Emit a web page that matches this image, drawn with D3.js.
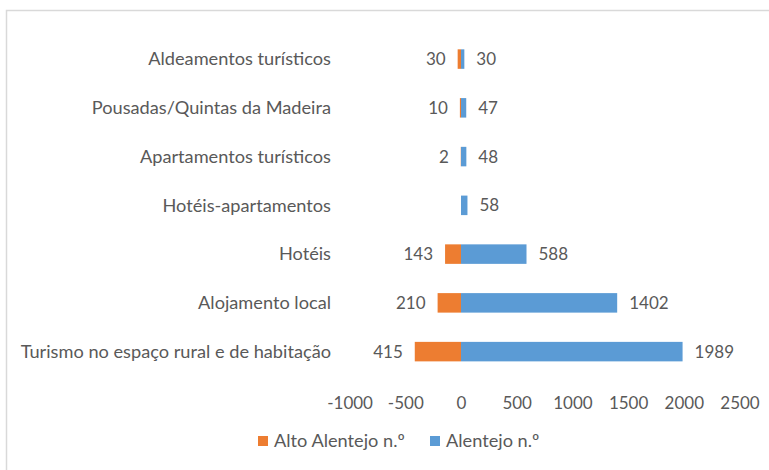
<!DOCTYPE html>
<html>
<head>
<meta charset="utf-8">
<script src="https://cdn.jsdelivr.net/npm/d3@7"></script>
<style>
  html, body { margin: 0; padding: 0; background: #fff; }
  svg { display: block; }
  text { font-family: Lato, "Open Sans", sans-serif; fill: #595959; }
</style>
</head>
<body>
<svg id="chart" width="769" height="470"></svg>
<script>
// Establishments by type: Alto Alentejo (drawn to the left of zero) vs Alentejo
const categories = [
  "Aldeamentos turísticos",
  "Pousadas/Quintas da Madeira",
  "Apartamentos turísticos",
  "Hotéis-apartamentos",
  "Hotéis",
  "Alojamento local",
  "Turismo no espaço rural e de habitação"
];
const altoAlentejo = [30, 10, 2, null, 143, 210, 415];
const alentejo = [30, 47, 48, 58, 588, 1402, 1989];
const tickValues = [-1000, -500, 0, 500, 1000, 1500, 2000, 2500];
const seriesNames = ["Alto Alentejo n.º", "Alentejo n.º"];
const colors = ["#ed7d31", "#5b9bd5"];

const TEXT_SIZE = 18.2;   // words
const NUM_SIZE = 17;      // numbers
const svg = d3.select("#chart");

// chart frame
svg.append("path")
  .attr("d", "M6.5,470 V10.5 H769")
  .attr("fill", "none")
  .attr("stroke", "#d9d9d9")
  .attr("stroke-width", 1.5);

const x = d3.scaleLinear().domain([-1000, 2500]).range([349.6, 739.5]);
const y = d3.scaleBand().domain(categories).range([34.7, 376]).paddingInner(0.6).paddingOuter(0.3);

const rows = categories.map((c, i) => ({ c, alto: altoAlentejo[i], alen: alentejo[i] }));

// category labels
svg.append("g").selectAll("text").data(rows).join("text")
  .attr("x", 331)
  .attr("y", d => y(d.c) + y.bandwidth() / 2)
  .attr("dy", "0.35em")
  .attr("text-anchor", "end")
  .attr("font-size", TEXT_SIZE)
  .text(d => d.c);

// Alto Alentejo bars (negative side)
svg.append("g").selectAll("rect").data(rows.filter(d => d.alto != null)).join("rect")
  .attr("x", d => x(-d.alto))
  .attr("y", d => y(d.c))
  .attr("width", d => x(0) - x(-d.alto))
  .attr("height", y.bandwidth())
  .attr("fill", colors[0]);

// Alentejo bars (positive side)
svg.append("g").selectAll("rect").data(rows).join("rect")
  .attr("x", x(0))
  .attr("y", d => y(d.c))
  .attr("width", d => x(d.alen) - x(0))
  .attr("height", y.bandwidth())
  .attr("fill", colors[1]);

// value labels
svg.append("g").selectAll("text").data(rows.filter(d => d.alto != null)).join("text")
  .attr("x", d => x(-d.alto) - 12)
  .attr("y", d => y(d.c) + y.bandwidth() / 2)
  .attr("dy", "0.35em")
  .attr("text-anchor", "end")
  .attr("font-size", NUM_SIZE)
  .text(d => d.alto);

svg.append("g").selectAll("text").data(rows).join("text")
  .attr("x", d => x(d.alen) + 12)
  .attr("y", d => y(d.c) + y.bandwidth() / 2)
  .attr("dy", "0.35em")
  .attr("text-anchor", "start")
  .attr("font-size", NUM_SIZE)
  .text(d => d.alen);

// x axis (labels only)
const axis = svg.append("g")
  .attr("transform", "translate(0,398)")
  .call(d3.axisBottom(x).tickValues(tickValues).tickSize(0).tickPadding(0).tickFormat(d => String(d)));
axis.select(".domain").remove();
axis.selectAll("text")
  .attr("font-size", NUM_SIZE)
  .attr("font-family", null)
  .attr("fill", "#595959")
  .attr("dy", "0.35em")
  .attr("y", 5);

// legend
const legend = svg.append("g");
const legendItems = [{ name: seriesNames[0], x: 258 }, { name: seriesNames[1], x: 430 }];
legendItems.forEach((it, i) => {
  legend.append("rect").attr("x", it.x).attr("y", 436).attr("width", 10).attr("height", 10).attr("fill", colors[i]);
  legend.append("text").attr("x", it.x + 16).attr("y", 441).attr("dy", "0.35em")
    .attr("font-size", TEXT_SIZE).text(it.name);
});
</script>
</body>
</html>
